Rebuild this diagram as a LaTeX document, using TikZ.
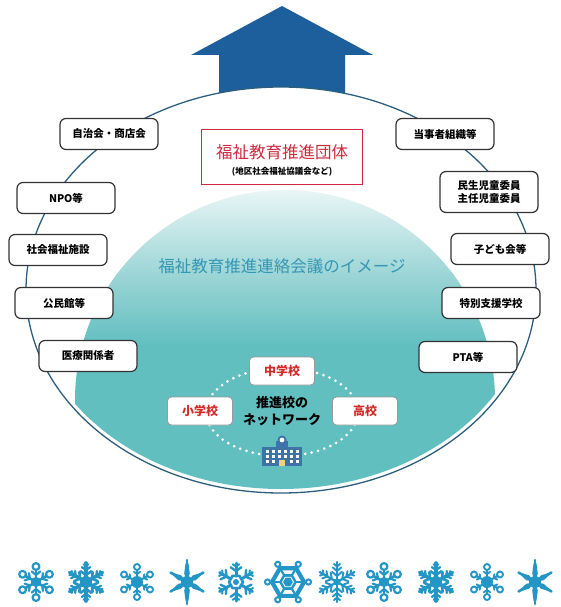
\documentclass[tikz,border=0pt]{standalone}
\usepackage{fontspec}
\setmainfont{Noto Sans CJK JP}
\usetikzlibrary{calc}

\definecolor{arrowblue}{HTML}{1D5E9C}
\definecolor{ringline}{HTML}{2C5F7E}
\definecolor{tealdark}{HTML}{62BFC0}
\definecolor{tealmid}{HTML}{9CD5D6}
\definecolor{teallight}{HTML}{EAF6F6}
\definecolor{titleteal}{HTML}{3597B4}
\definecolor{crimson}{HTML}{CF2A40}
\definecolor{schoolred}{HTML}{D42A2A}
\definecolor{bldgblue}{HTML}{3B73AA}
\definecolor{doorgold}{HTML}{F2D27A}
\definecolor{flakeblue}{HTML}{2396C6}

\tikzset{
  sidebox/.style={draw=black!80, line width=1.2pt, rounded corners=6pt, fill=white,
    minimum width=98pt, minimum height=31pt, align=center, inner sep=2pt,
    font=\fontsize{10.5}{13}\selectfont\bfseries},
  schoolbox/.style={draw=black!40, line width=0.8pt, rounded corners=4pt, fill=white,
    minimum width=65pt, minimum height=28pt, inner sep=2pt, text=schoolred,
    font=\fontsize{12}{14}\selectfont\bfseries},
  flk/.style={draw=flakeblue, line width=2.6pt, line cap=round, line join=round},
  % snowflake with ring-tipped arms
  flakeA/.pic={
    \foreach \a in {30,90,...,330}{
      \draw[flk] (0,0) -- (\a:12);
      \draw[flk,line width=2.2pt] (\a:15.5) circle (3.4);
      \draw[flk,line width=2.2pt] (\a:7) -- ++(\a+50:5.5);
      \draw[flk,line width=2.2pt] (\a:7) -- ++(\a-50:5.5);
    }
    \draw[flk,line width=2.4pt] (0,0) circle (3.8);
  },
  % dense feathered snowflake
  flakeB/.pic={
    \foreach \a in {30,90,...,330}{
      \draw[flk,line width=3.6pt] (0,0) -- (\a:19);
      \draw[flk,line width=2.6pt] (\a:7) -- ++(\a+55:6.5) (\a:7) -- ++(\a-55:6.5);
      \draw[flk,line width=2.3pt] (\a:12) -- ++(\a+55:5) (\a:12) -- ++(\a-55:5);
      \draw[flk,line width=2pt] (\a:16) -- ++(\a+55:3) (\a:16) -- ++(\a-55:3);
    }
    \fill[flakeblue] (0,0) circle (6);
  },
  % small snowflake with rings and solid core
  flakeC/.pic={
    \foreach \a in {30,90,...,330}{
      \draw[flk,line width=2.1pt] (0,0) -- (\a:12);
      \draw[flk,line width=1.9pt] (\a:15) circle (3);
      \draw[flk,line width=1.9pt] (\a:8) -- ++(\a+55:3.8) (\a:8) -- ++(\a-55:3.8);
    }
    \fill[flakeblue] (0,0) circle (6);
  },
  % six-pointed star with broad tapered arms
  flakeD/.pic={
    \foreach \a/\r in {90/22,270/22,30/19,150/19,210/19,330/19}{
      \fill[flakeblue] (0,0) -- (\a+18:9) -- (\a+5:\r-4) -- (\a:\r) -- (\a-5:\r-4)
        -- (\a-18:9) -- cycle;
      \draw[flk,line width=2.6pt] (0,0) -- (\a:\r);
    }
    \fill[flakeblue] (0,0) circle (6);
  },
  % branched snowflake with hexagonal core
  flakeE/.pic={
    \foreach \a in {30,90,...,330}{
      \draw[flk,line width=3pt] (\a:6) -- (\a:19);
      \draw[flk,line width=2.4pt] (\a:11) -- ++(\a+55:6.5) (\a:11) -- ++(\a-55:6.5);
      \draw[flk,line width=2pt] (\a:15.5) -- ++(\a+55:4) (\a:15.5) -- ++(\a-55:4);
    }
    \draw[flk,line width=2.6pt] (0:7) \foreach \b in {60,120,...,300}{ -- (\b:7)} -- cycle;
    \fill[flakeblue] (0,0) circle (3);
  },
  % hexagonal plate snowflake
  flakeF/.pic={
    \draw[flk,line width=4.2pt] (0:16) \foreach \b in {60,120,...,300}{ -- (\b:16)} -- cycle;
    \fill[flakeblue] (0:9) \foreach \b in {60,120,...,300}{ -- (\b:9)} -- cycle;
    \foreach \a in {0,60,...,300}{
      \draw[flk,line width=2.2pt] (0,0) -- (\a:16);
      \draw[flk,line width=2pt] (\a:20.5) circle (2.6);
    }
    \draw[white,line width=0.9pt] (0:5.5) \foreach \b in {60,120,...,300}{ -- (\b:5.5)} -- cycle;
  },
  % fern-like snowflake
  flakeG/.pic={
    \foreach \a in {30,90,...,330}{
      \draw[flk,line width=2.2pt] (0,0) -- (\a:20);
      \foreach \d/\l in {6/6.5,11/5.5,15.5/4}{
        \draw[flk,line width=1.9pt] (\a:\d) -- ++(\a+50:\l) (\a:\d) -- ++(\a-50:\l);
      }
    }
    \fill[flakeblue] (0,0) circle (3.5);
  },
}

\begin{document}
\begin{tikzpicture}[x=1pt,y=-1pt]
  \useasboundingbox[fill=white] (0,0) rectangle (560,607);

  % upward arrow rising out of the ring
  \fill[arrowblue] (219,100) -- (219,55) -- (191,55) -- (282,6)
    -- (373,55) -- (345,55) -- (345,100) -- cycle;

  % interior of the ring
  \fill[white] (281,290) ellipse (255 and 203);

  % teal network area, kept inside the ring, fading out towards the top
  \begin{scope}
    \clip (281,290) ellipse (251 and 199);
    \clip (285,400) circle (210);
    \shade[top color=teallight, bottom color=tealmid] (0,188) rectangle (560,275);
    \shade[top color=tealmid, bottom color=tealdark] (0,274.5) rectangle (560,345);
    \fill[tealdark] (0,344.5) rectangle (560,620);
  \end{scope}

  % outer ring
  \draw[ringline, line width=1.3pt] (281,290) ellipse (255 and 203);

  % main title
  \node[text=titleteal, font=\fontsize{16.5}{18}\selectfont] (title) at (282,266)
    {福祉教育推進連絡会議のイメージ};

  % promoting body
  \node[draw=crimson, line width=1.8pt, fill=white, minimum width=161pt,
        minimum height=55pt] (dantai) at (282,157) {};
  \node[text=crimson, font=\fontsize{16.5}{18}\selectfont] (dantaititle) at (282,152)
    {福祉教育推進団体};
  \node[font=\fontsize{8.5}{10}\selectfont\bfseries] (dantaisub) at (282,172)
    {(地区社会福祉協議会など)};

  % partners on the left
  \node[sidebox] (jichikai) at (109,134) {自治会・商店会};
  \node[sidebox] (npo)      at (66,198)  {NPO等};
  \node[sidebox] (shisetsu) at (58,250)  {社会福祉施設};
  \node[sidebox] (kominkan) at (64,303)  {公民館等};
  \node[sidebox] (iryo)     at (88,356)  {医療関係者};

  % partners on the right
  \node[sidebox] (tojisha)  at (445,134) {当事者組織等};
  \node[sidebox, minimum height=41pt] (minsei) at (489,192)
    {民生児童委員\\主任児童委員};
  \node[sidebox] (kodomo)   at (500,249) {子ども会等};
  \node[sidebox] (tokubetsu) at (491,303) {特別支援学校};
  \node[sidebox] (pta)      at (468,357) {PTA等};

  % dotted ring of the school network
  \draw[white, line width=3pt, line cap=round, dash pattern=on 0pt off 6.6pt]
    (282,412) ellipse (76 and 44);

  \node[schoolbox] (chugaku) at (282,371) {中学校};
  \node[schoolbox] (shogaku) at (200,411) {小学校};
  \node[schoolbox] (koko)    at (365,411) {高校};

  \node[align=center, font=\fontsize{13}{17}\selectfont\bfseries] (network) at (282,411)
    {推進校の\\ネットワーク};

  % school building icon
  \fill[bldgblue] (262,447) rectangle (302,466);
  \fill[bldgblue] (276,441) rectangle (288,447);
  \fill[bldgblue] (282,440) circle (4.5);
  \fill[white] (282,440) circle (2.4);
  \foreach \i in {0,...,5}{
    \foreach \j in {0,1,2}{
      \fill[white] ($(265.5,450)+(\i*6,\j*5)$) rectangle ++(3,3);
    }
  }
  \fill[bldgblue] (276.5,459) rectangle (287.5,466);
  \fill[doorgold] (279,460) rectangle (285,466);

  % snowflake border
  \pic at (36,582)  {flakeA};
  \pic at (86,582)  {flakeB};
  \pic at (137,582) {flakeC};
  \pic at (187,582) {flakeD};
  \pic at (236,582) {flakeE};
  \pic at (288,582) {flakeF};
  \pic at (337,582) {flakeG};
  \pic at (384,582) {flakeA};
  \pic at (436,582) {flakeB};
  \pic at (487,582) {flakeC};
  \pic at (535,582) {flakeD};
\end{tikzpicture}
\end{document}
